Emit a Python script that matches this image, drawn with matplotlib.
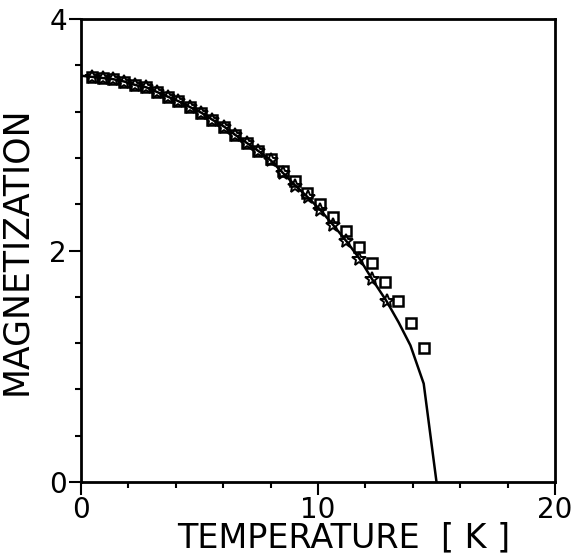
import matplotlib
matplotlib.use("Agg")
import matplotlib.pyplot as plt
from matplotlib.ticker import MultipleLocator

# Data
star_T = [0.45, 0.91, 1.36, 1.82, 2.29, 2.75, 3.20, 3.65, 4.11, 4.59, 5.08, 5.54,
          6.04, 6.50, 6.99, 7.48, 8.00, 8.52, 9.05, 9.57, 10.10, 10.64, 11.20,
          11.75, 12.29, 12.90]
star_M = [3.50, 3.49, 3.48, 3.46, 3.43, 3.41, 3.37, 3.33, 3.29, 3.24, 3.19, 3.13,
          3.07, 3.00, 2.93, 2.86, 2.78, 2.67, 2.56, 2.46, 2.35, 2.22, 2.08,
          1.93, 1.75, 1.56]

square_T = [0.45, 0.91, 1.36, 1.82, 2.29, 2.75, 3.20, 3.65, 4.11, 4.59, 5.08, 5.54,
            6.04, 6.50, 6.99, 7.48, 8.00, 8.52, 9.05, 9.54, 10.10, 10.64, 11.20,
            11.75, 12.29, 12.81, 13.36, 13.92, 14.48]
square_M = [3.50, 3.49, 3.48, 3.46, 3.43, 3.41, 3.37, 3.33, 3.29, 3.24, 3.19, 3.13,
            3.07, 3.00, 2.93, 2.86, 2.79, 2.69, 2.60, 2.50, 2.40, 2.29, 2.17,
            2.03, 1.89, 1.73, 1.56, 1.37, 1.16]

line_T = [0.0, 0.45, 0.91, 1.36, 1.82, 2.29, 2.75, 3.20, 3.65, 4.11, 4.59, 5.08, 5.54,
          6.04, 6.50, 6.99, 7.48, 8.00, 8.52, 9.05, 9.57, 10.10, 10.64, 11.20,
          11.75, 12.29, 12.90, 13.40, 13.90, 14.46, 15.00]
line_M = [3.51, 3.50, 3.49, 3.48, 3.46, 3.43, 3.41, 3.37, 3.33, 3.29, 3.24, 3.19, 3.13,
          3.07, 3.00, 2.93, 2.86, 2.78, 2.67, 2.56, 2.46, 2.35, 2.22, 2.08,
          1.93, 1.75, 1.56, 1.38, 1.18, 0.85, 0.0]

xticks = [0, 10, 20]
yticks = [0, 2, 4]
xlabel = "TEMPERATURE  [ K ]"
ylabel = "MAGNETIZATION"

fig = plt.figure(figsize=(5.74, 5.57), dpi=100)
ax = fig.add_axes([81/574, 1 - 482/557, 474/574, 463/557])

ax.plot(line_T, line_M, color="black", lw=1.8, zorder=2)
ax.plot(square_T, square_M, ls="none", marker="s", ms=7, mfc="none",
        mec="black", mew=1.8, zorder=3)
ax.plot(star_T, star_M, ls="none", marker="*", ms=10, mfc="none",
        mec="black", mew=1.4, zorder=4)

ax.set_xlim(0, 20)
ax.set_ylim(0, 4)
ax.set_xticks(xticks)
ax.set_yticks(yticks)
ax.set_xticklabels([str(t) for t in xticks])
ax.set_yticklabels([str(t) for t in yticks])
ax.xaxis.set_minor_locator(MultipleLocator(2))
ax.yaxis.set_minor_locator(MultipleLocator(0.4))
ax.tick_params(which="major", direction="out", length=9, width=1.5,
               labelsize=20, pad=1, top=False, right=False)
ax.tick_params(which="minor", direction="out", length=4, width=1.5,
               top=False, right=False)
for s in ax.spines.values():
    s.set_linewidth(2)

ax.set_xlabel(xlabel, fontsize=24)
ax.xaxis.set_label_coords(0.555, -0.085)
ax.set_ylabel(ylabel, fontsize=25)
ax.yaxis.set_label_coords(-0.10, 0.5)

fig.savefig("out.png", dpi=100, facecolor="white")
